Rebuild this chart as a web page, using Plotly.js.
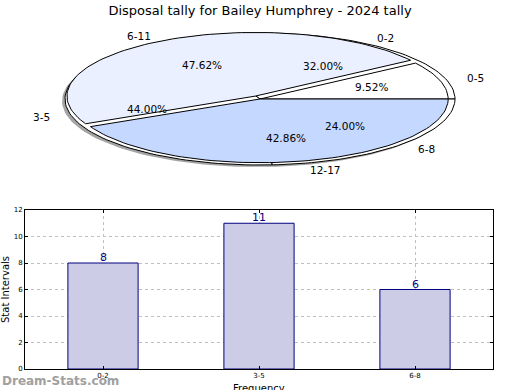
<!DOCTYPE html>
<html>
<head>
<meta charset="utf-8">
<script src="https://cdn.plot.ly/plotly-3.0.1.min.js"></script>
<style>html,body{margin:0;padding:0;background:#fff;}#chart{width:520px;height:390px;}</style>
</head>
<body>
<div id="chart"></div>
<script>
// ---- data ----
const chartTitle = 'Disposal tally for Bailey Humphrey - 2024 tally';
const categories = ['0-2', '3-5', '6-8'];
const counts = [8, 11, 6];
const pieBLabels = ['0-5', '6-11', '12-17'];
const pieBValues = [2, 10, 9];
const yTicks = [0, 2, 4, 6, 8, 10, 12];
const xTitle = 'Frequency';
const yTitle = 'Stat Intervals';
const watermark = 'Dream-Stats.com';

// ---- pie geometry (pixel-like units on hidden axes) ----
const CX = 260, CY = 99, RX = 195, RY = 66;
const FONT = 'DejaVu Sans, sans-serif';

function wedge(a0, a1, r, dx, dy) {
  const xs = [CX + dx], ys = [CY + dy];
  const n = Math.max(4, Math.ceil((a1 - a0) / 2));
  for (let i = 0; i <= n; i++) {
    const a = (a0 + (a1 - a0) * i / n) * Math.PI / 180;
    xs.push(CX + dx + r * RX * Math.cos(a));
    ys.push(CY + dy - r * RY * Math.sin(a));
  }
  xs.push(CX + dx); ys.push(CY + dy);
  return {xs, ys};
}

function angles(vals) {
  const tot = vals.reduce((a, b) => a + b, 0);
  let acc = 0;
  return vals.map(v => {
    const a0 = acc / tot * 360; acc += v; const a1 = acc / tot * 360;
    return {a0, a1, mid: (a0 + a1) / 2, pct: (v / tot * 100).toFixed(2) + '%'};
  });
}

const traces = [];
const annotations = [];

// shadow
const sh = wedge(0, 360, 1.0, -3, 2);
traces.push({type: 'scatter', mode: 'lines', x: sh.xs, y: sh.ys, xaxis: 'x2', yaxis: 'y2',
  fill: 'toself', fillcolor: 'rgba(90,90,90,0.55)', line: {width: 0}, hoverinfo: 'skip', showlegend: false});

// pie A (bar categories) underneath
const angA = angles(counts);
angA.forEach((g, i) => {
  const w = wedge(g.a0, g.a1, 1.0, 0, 0);
  traces.push({type: 'scatter', mode: 'lines', x: w.xs, y: w.ys, xaxis: 'x2', yaxis: 'y2',
    fill: 'toself', fillcolor: '#ffffff', line: {color: '#000', width: 1}, hoverinfo: 'skip', showlegend: false});
});

// pie B on top
const angB = angles(pieBValues);
const colorsB = ['#ffffff', '#eaf0ff', '#c5d8ff'];
const explodeB = [0, 0.05, 0];
angB.forEach((g, i) => {
  const m = g.mid * Math.PI / 180;
  const dx = explodeB[i] * RX * Math.cos(m), dy = -explodeB[i] * RY * Math.sin(m);
  const w = wedge(g.a0, g.a1, 0.965, dx, dy);
  traces.push({type: 'scatter', mode: 'lines', x: w.xs, y: w.ys, xaxis: 'x2', yaxis: 'y2',
    fill: 'toself', fillcolor: colorsB[i], line: {color: '#000', width: 1}, hoverinfo: 'skip', showlegend: false});
});

function addPieText(labels, angs) {
  angs.forEach((g, i) => {
    const m = g.mid * Math.PI / 180;
    const c = Math.cos(m), s = Math.sin(m);
    annotations.push({xref: 'x2', yref: 'y2', x: CX + 1.1 * RX * c, y: CY - 1.1 * RY * s,
      text: labels[i], showarrow: false, xanchor: c < 0 ? 'right' : 'left', yanchor: 'middle',
      font: {family: FONT, size: 10.5, color: '#000'}});
    annotations.push({xref: 'x2', yref: 'y2', x: CX + 0.6 * RX * c, y: CY - 0.6 * RY * s,
      text: g.pct, showarrow: false, xanchor: 'center', yanchor: 'middle',
      font: {family: FONT, size: 10.5, color: '#000'}});
  });
}
addPieText(categories, angA);
addPieText(pieBLabels, angB);

// bar chart
traces.push({type: 'bar', x: categories, y: counts, width: 0.45,
  marker: {color: '#ccccE6', line: {color: '#000080', width: 1}},
  hoverinfo: 'skip', showlegend: false});
categories.forEach((c, i) => {
  annotations.push({xref: 'x', yref: 'y', x: c, y: counts[i], text: String(counts[i]),
    showarrow: false, xanchor: 'center', yanchor: 'bottom', yshift: -3,
    font: {family: FONT, size: 11, color: '#000080'}});
});

// x-axis title (placed partly below the canvas edge, as in the reference)
annotations.push({xref: 'paper', yref: 'paper', x: 259 / 520, y: 9 / 390, xanchor: 'center', yanchor: 'top',
  text: xTitle, showarrow: false, font: {family: FONT, size: 10, color: '#000'}});

annotations.push({xref: 'paper', yref: 'paper', x: 0, y: 9 / 390, xanchor: 'left', yanchor: 'middle',
  text: '<b>' + watermark + '</b>', showarrow: false, font: {family: FONT, size: 12, color: '#a0a0a0'}});

const layout = {
  width: 520, height: 390,
  margin: {l: 0, r: 0, t: 0, b: 0},
  paper_bgcolor: '#fff', plot_bgcolor: '#fff',
  showlegend: false,
  title: {text: chartTitle, x: 0.5, xanchor: 'center', y: 1 - 10 / 390, yanchor: 'middle',
    font: {family: FONT, size: 13, color: '#000'}},
  xaxis2: {domain: [0, 1], range: [0, 520], visible: false, fixedrange: true},
  yaxis2: {domain: [0.5, 1], range: [195, 0], visible: false, fixedrange: true, anchor: 'x2'},
  xaxis: {domain: [25 / 520, 493 / 520], range: [-0.5, 2.5], anchor: 'y',
    showline: true, mirror: 'ticks', linecolor: '#000', linewidth: 1,
    showgrid: true, gridcolor: '#c0c0c0', griddash: 'dot', gridwidth: 1,
    ticks: 'inside', ticklen: 3, tickcolor: '#000',
    tickfont: {family: FONT, size: 7, color: '#000'}},
  yaxis: {domain: [21 / 390, 180 / 390], range: [0, 12], anchor: 'x',
    tickvals: yTicks, showline: true, mirror: 'ticks', linecolor: '#000', linewidth: 1,
    showgrid: true, gridcolor: '#c0c0c0', griddash: 'dot', gridwidth: 1, zeroline: false,
    ticks: 'inside', ticklen: 3, tickcolor: '#000',
    tickfont: {family: FONT, size: 7, color: '#000'},
    title: {text: yTitle, font: {family: FONT, size: 10, color: '#000'}, standoff: 4}},
  annotations: annotations
};

Plotly.newPlot('chart', traces, layout, {staticPlot: true, displayModeBar: false});
</script>
</body>
</html>
